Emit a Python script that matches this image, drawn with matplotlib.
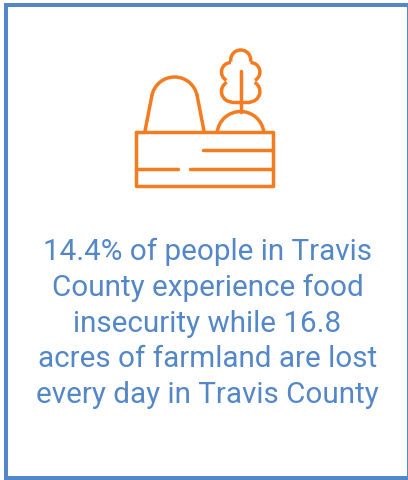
import numpy as np
from matplotlib import pyplot as plt
from matplotlib.patches import Arc, Rectangle

W, H = 408, 481
text_lines = ['14.4% of people in Travis',
              'County experience food',
              'insecurity while 16.8',
              'acres of farmland are lost',
              'every day in Travis County']
baselines = [260.5, 296, 331.7, 367.3, 403]

BLUE = '#5387c8'
ORANGE = '#f47b20'
LW = 2.5

fig = plt.figure(figsize=(W / 100, H / 100), dpi=100)
ax = fig.add_axes([0, 0, 1, 1])
ax.set_xlim(0, W)
ax.set_ylim(H, 0)
ax.axis('off')

# outer frame, right side runs off the edge
ax.add_patch(Rectangle((6, 6), 402.7, 473, fill=False, ec=BLUE, lw=2.9, clip_on=True))


def stroke(xs, ys):
    ax.plot(xs, ys, color=ORANGE, lw=LW, solid_capstyle='round', solid_joinstyle='round')


def arc(cx, cy, r, start, end):
    ax.add_patch(Arc((cx, cy), 2 * r, 2 * r, theta1=start, theta2=end, color=ORANGE, lw=LW))


# crate
stroke([136, 272.5, 272.5, 136, 136], [133, 133, 186.5, 186.5, 133])
stroke([203, 272.5], [151, 151])
stroke([136, 178], [169.5, 169.5])
stroke([190, 272.5], [169.5, 169.5])

# big dome
stroke([145, 152], [132, 96])
stroke([204, 197], [132, 96])
arc(174.5, 101, 23, 190, 350)

# small dome and tree
arc(240.5, 136, 23.5, 187, 353)
stroke([240.7, 240.7], [72, 113])
arc(240.7, 61, 10, 170, 370)
arc(231, 73, 9.5, 119, 270)
arc(250.4, 73, 9.5, 270, 421)
arc(232, 92.5, 10.5, 90, 240)
arc(249.4, 92.5, 10.5, 300, 450)
stroke([232, 249.4], [103, 103])

for s, y in zip(text_lines, baselines):
    ax.text(207.5, y, s, ha='center', va='baseline', color=BLUE,
            fontsize=21.35, family='Roboto')

fig.savefig('out.png', dpi=100)
